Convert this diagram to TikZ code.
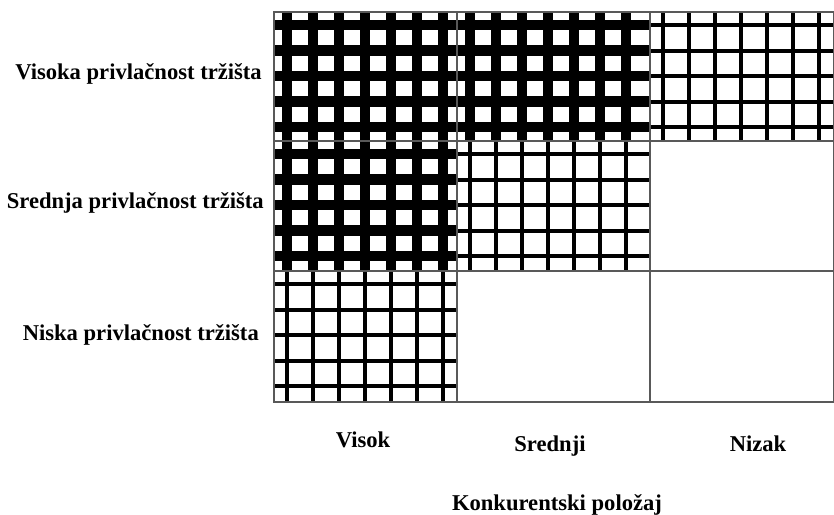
\documentclass[tikz,border=0pt]{standalone}
\usepackage{fontspec}
\setmainfont{Liberation Serif}

\tikzset{
  lbl/.style={font=\fontsize{22.6}{26}\selectfont\bfseries, inner sep=0pt},
  cellline/.style={draw=black!65, line width=1.2pt}
}

\begin{document}
\begin{tikzpicture}[x=1pt,y=-1pt]
  \useasboundingbox (0,0) rectangle (834,514);
  % hatched cells: left x / top y / width / line width
  \foreach \cx/\cy/\cw/\lw in {274/12/183/10.5, 457/12/193/10.5, 274/141/183/10.5,
                               650/12/184/4, 457/141/193/4, 274/271/183/4} {
    \begin{scope}
      \clip (\cx,\cy) rectangle +(\cw,130);
      \foreach \i in {0,...,6}
        \draw [line width=\lw] (\cx+13+26*\i,\cy) --+(0,130);
      \foreach \j in {0,...,4}
        \draw [line width=\lw] (\cx,\cy+13+25.5*\j) --+(\cw,0);
    \end{scope}
  }
  % frame of the matrix
  \draw [cellline] (274,12) rectangle (834,402);
  \draw [cellline] (274,141)--(834,141);
  \draw [cellline] (274,271)--(834,271);
  \draw [cellline] (457,12)--(457,402);
  \draw [cellline] (650,12)--(650,402);
  % row labels
  \node (visoka)  [lbl,anchor=base east] at (262,79)  {Visoka privlačnost tržišta};
  \node (srednja) [lbl,anchor=base east] at (264,208) {Srednja privlačnost tržišta};
  \node (niska)   [lbl,anchor=base east] at (259,340) {Niska privlačnost tržišta};
  % column labels
  \node (visok)   [lbl,anchor=base] at (363,447) {Visok};
  \node (srednji) [lbl,anchor=base] at (550,451) {Srednji};
  \node (nizak)   [lbl,anchor=base] at (758,451) {Nizak};
  \node (polozaj) [lbl,anchor=base] at (557,510) {Konkurentski položaj};
\end{tikzpicture}
\end{document}
